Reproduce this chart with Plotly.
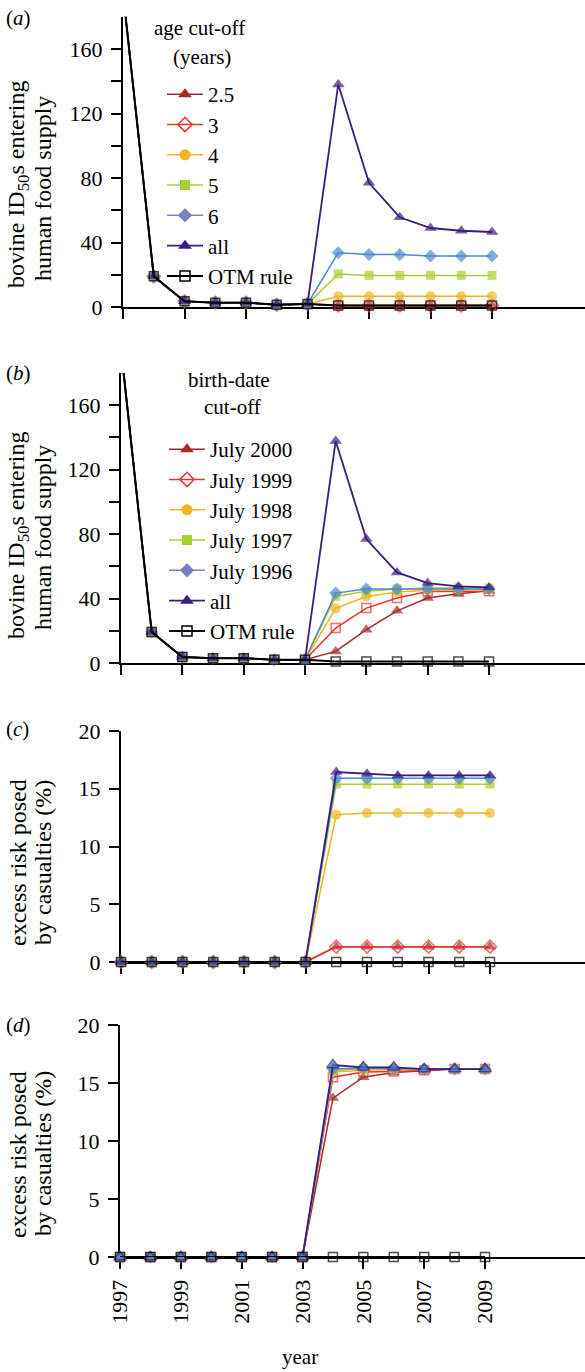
import plotly.graph_objects as go

# ---------------- data ----------------
years = [1997, 1998, 1999, 2000, 2001, 2002, 2003, 2004, 2005, 2006, 2007, 2008, 2009]
x_tick_vals = [1997, 1999, 2001, 2003, 2005, 2007, 2009]
x_tick_text = ["1997", "1999", "2001", "2003", "2005", "2007", "2009"]
y_tick_vals_ab = [0, 20, 40, 60, 80, 100, 120, 140, 160]
y_tick_text_ab = ["0", "", "40", "", "80", "", "120", "", "160"]
y_tick_vals_cd = [0, 5, 10, 15, 20]
y_tick_text_cd = ["0", "5", "10", "15", "20"]

age_labels = ["2.5", "3", "4", "5", "6", "all", "OTM rule"]
birth_labels = ["July 2000", "July 1999", "July 1998", "July 1997", "July 1996", "all", "OTM rule"]

# (a) bovine ID50s entering human food supply, age cut-off
a_25 = [195, 19, 3.5, 2.7, 2.7, 1.4, 1.9, 1, 1, 1, 1, 1, 1]
a_3 = [195, 19, 3.5, 2.7, 2.7, 1.4, 1.9, 1, 1, 1, 1, 1, 1]
a_4 = [195, 19, 3.5, 2.7, 2.7, 1.4, 1.9, 6.6, 6.6, 6.6, 6.6, 6.6, 6.6]
a_5 = [195, 19, 3.5, 2.7, 2.7, 1.4, 1.9, 20.5, 19.6, 19.6, 19.6, 19.6, 19.6]
a_6 = [195, 19, 3.5, 2.7, 2.7, 1.4, 1.9, 33.7, 32.5, 32.5, 31.6, 31.6, 31.6]
a_all = [195, 19, 3.5, 2.7, 2.7, 1.4, 1.9, 138, 77, 55.6, 49, 47.3, 46.5]
a_otm = [195, 19, 3.5, 2.7, 2.7, 1.4, 1.9, 1, 1, 1, 1, 1, 1]

# (b) bovine ID50s entering human food supply, birth-date cut-off
b_2000 = [195, 19.2, 3.7, 3, 3, 2, 2, 7.2, 20.7, 32.4, 40.3, 43, 44.8]
b_1999 = [195, 19.2, 3.7, 3, 3, 2, 2, 21.7, 34.1, 40.3, 44.4, 44.6, 44.6]
b_1998 = [195, 19.2, 3.7, 3, 3, 2, 2, 33.9, 41.3, 44, 45.2, 45.5, 45.5]
b_1997 = [195, 19.2, 3.7, 3, 3, 2, 2, 41.3, 44.6, 46, 46.5, 46.5, 46.5]
b_1996 = [195, 19.2, 3.7, 3, 3, 2, 2, 43.4, 46, 46, 46, 46, 46]
b_all = [195, 19.2, 3.7, 3, 3, 2, 2, 137.8, 76.9, 56.2, 49.6, 47.5, 46.9]
b_otm = [195, 19.2, 3.7, 3, 3, 2, 2, 1, 1, 1, 1, 1, 1]

# (c) excess risk posed by casualties (%), age cut-off
c_25 = [0, 0, 0, 0, 0, 0, 0, 1.33, 1.33, 1.33, 1.33, 1.33, 1.33]
c_3 = [0, 0, 0, 0, 0, 0, 0, 1.33, 1.33, 1.33, 1.33, 1.33, 1.33]
c_4 = [0, 0, 0, 0, 0, 0, 0, 12.75, 12.9, 12.9, 12.9, 12.9, 12.9]
c_5 = [0, 0, 0, 0, 0, 0, 0, 15.4, 15.4, 15.4, 15.4, 15.4, 15.4]
c_6 = [0, 0, 0, 0, 0, 0, 0, 15.9, 15.9, 15.9, 15.9, 15.9, 15.9]
c_all = [0, 0, 0, 0, 0, 0, 0, 16.45, 16.3, 16.15, 16.15, 16.15, 16.15]
c_otm = [0, 0, 0, 0, 0, 0, 0, 0, 0, 0, 0, 0, 0]

# (d) excess risk posed by casualties (%), birth-date cut-off
d_2000 = [0, 0, 0, 0, 0, 0, 0, 13.7, 15.5, 15.9, 16.05, 16.2, 16.2]
d_1999 = [0, 0, 0, 0, 0, 0, 0, 15.5, 15.95, 16.0, 16.1, 16.2, 16.2]
d_1998 = [0, 0, 0, 0, 0, 0, 0, 15.95, 16.1, 16.15, 16.2, 16.2, 16.2]
d_1997 = [0, 0, 0, 0, 0, 0, 0, 16.05, 16.25, 16.2, 16.2, 16.2, 16.2]
d_1996 = [0, 0, 0, 0, 0, 0, 0, 16.2, 16.3, 16.25, 16.2, 16.2, 16.2]
d_all = [0, 0, 0, 0, 0, 0, 0, 16.55, 16.35, 16.35, 16.2, 16.2, 16.2]
d_otm = [0, 0, 0, 0, 0, 0, 0, 0, 0, 0, 0, 0, 0]

# ---------------- styling ----------------
W, H = 585, 1372
FONT = "Liberation Serif"
FS = 21
FS_TICK = 22
FS_YT = 24

C25 = "#A3292B"
C3 = "#E8322F"
C4 = "#F2B423"
C5 = "#A8CF2F"
C6 = "#4E89CE"
C6_LEG = "#7D7FC3"
CALL = "#3A1B82"
COTM = "#000000"


def fx(px):
    return px / W


def fy(py):
    return 1 - py / H


age_styles = [
    dict(color=C25, symbol="triangle-up", size=11, mlc=C25, mlw=0, lw=1.5),
    dict(color=C3, symbol="diamond-open", size=10, mlc=C3, mlw=1.5, lw=1.5),
    dict(color=C4, symbol="circle", size=10, mlc=C4, mlw=0, lw=1.5),
    dict(color=C5, symbol="square", size=9, mlc=C5, mlw=0, lw=1.5),
    dict(color=C6, symbol="diamond", size=10, mlc=C6, mlw=0, lw=1.5, leg=C6_LEG),
    dict(color=CALL, symbol="triangle-up", size=11, mlc=CALL, mlw=0, lw=1.8),
    dict(color=COTM, symbol="square-open", size=9, mlc=COTM, mlw=1.5, lw=2),
]
birth_styles = [
    dict(color=C25, symbol="triangle-up", size=11, mlc=C25, mlw=0, lw=1.5),
    dict(color=C3, symbol="square-open", size=9, mlc=C3, mlw=1.5, lw=1.5, legsym="diamond-open", legsize=10),
    dict(color=C4, symbol="circle", size=10, mlc=C4, mlw=0, lw=1.5),
    dict(color=C5, symbol="square", size=9, mlc=C5, mlw=0, lw=1.5),
    dict(color=C6, symbol="diamond", size=10, mlc=C6, mlw=0, lw=1.5, leg=C6_LEG),
    dict(color=CALL, symbol="triangle-up", size=11, mlc=CALL, mlw=0, lw=1.8),
    dict(color=COTM, symbol="square-open", size=9, mlc=COTM, mlw=1.5, lw=2),
]

fig = go.Figure()


def add_panel(series, labels, styles, xa, ya, legend=None, hide_first=False, d_panel=False):
    for i, (vals, lab, st) in enumerate(zip(series, labels, styles)):
        sizes = [st["size"]] * len(years)
        if hide_first:
            sizes[0] = 0
        mcolor = st["color"]
        mlc = st["mlc"]
        mlw = st["mlw"]
        if d_panel and lab == "all":
            mcolor = "#4F7FC4"
            mlc = CALL
            mlw = 1.5
        fig.add_trace(go.Scatter(
            x=years, y=vals, mode="lines+markers", xaxis=xa, yaxis=ya,
            line=dict(color=st["color"], width=st["lw"]),
            marker=dict(color=mcolor, symbol=st["symbol"], size=sizes,
                        line=dict(color=mlc, width=mlw)),
            cliponaxis=False, showlegend=False, name=lab,
        ))
        if legend:
            legc = st.get("leg", st["color"])
            fig.add_trace(go.Scatter(
                x=[None], y=[None], mode="lines+markers", xaxis=xa, yaxis=ya,
                line=dict(color=legc, width=st["lw"]),
                marker=dict(color=legc, symbol=st.get("legsym", st["symbol"]),
                            size=st.get("legsize", st["size"]) + 1,
                            line=dict(color=legc, width=st["mlw"])),
                name=lab, legend=legend, showlegend=True,
            ))


add_panel([a_25, a_3, a_4, a_5, a_6, a_all, a_otm], age_labels, age_styles, "x", "y",
          legend="legend", hide_first=True)
add_panel([b_2000, b_1999, b_1998, b_1997, b_1996, b_all, b_otm], birth_labels, birth_styles, "x2", "y2",
          legend="legend2", hide_first=True)
add_panel([c_25, c_3, c_4, c_5, c_6, c_all, c_otm], age_labels, age_styles, "x3", "y3")
add_panel([d_2000, d_1999, d_1998, d_1997, d_1996, d_all, d_otm], birth_labels, birth_styles, "x4", "y4",
          d_panel=True)

# panel geometry in pixels: (x of 1997, px per year, y of zero, y of top, y-range top)
geo = {
    1: (123, 30.75, 307, 16.75, 180),
    2: (121, 30.67, 663, 373, 180),
    3: (121, 30.75, 962, 731, 20),
    4: (120, 30.42, 1257, 1025, 20),
}

axis_common = dict(showline=True, linewidth=2, linecolor="black", ticks="outside",
                   ticklen=10, tickwidth=2, tickcolor="black", showgrid=False, zeroline=False,
                   tickfont=dict(family=FONT, size=FS_TICK, color="black"), layer="below traces",
                   automargin=False)
layout_axes = {}
for k, (x0, ppy, y0, ytop, ymax) in geo.items():
    sx = "" if k == 1 else str(k)
    xa = dict(axis_common, domain=[fx(x0), 1], range=[1997, 1997 + (W - x0) / ppy],
              tickvals=x_tick_vals, anchor="y" + sx)
    if k == 4:
        xa.update(ticktext=x_tick_text, tickangle=-90, ticklabelstandoff=2)
    else:
        xa.update(ticktext=[""] * len(x_tick_vals))
    ya = dict(axis_common, domain=[fy(y0), fy(ytop)], range=[0, ymax], anchor="x" + sx,
              ticklabelstandoff=4)
    if ymax == 180:
        ya.update(tickvals=y_tick_vals_ab, ticktext=y_tick_text_ab)
    else:
        ya.update(tickvals=y_tick_vals_cd, ticktext=y_tick_text_cd)
    layout_axes["xaxis" + sx] = xa
    layout_axes["yaxis" + sx] = ya

fig.update_layout(**layout_axes)

legend_common = dict(font=dict(family=FONT, size=FS, color="black"), bgcolor="rgba(0,0,0,0)",
                     xanchor="left", yanchor="top", itemwidth=36, traceorder="normal")
fig.update_layout(
    width=W, height=H, margin=dict(l=0, r=0, t=0, b=0, autoexpand=False),
    paper_bgcolor="white", plot_bgcolor="white",
    font=dict(family=FONT, size=FS, color="black"),
    legend=dict(legend_common, x=fx(162), y=fy(74)),
    legend2=dict(legend_common, x=fx(164), y=fy(429)),
)


def ann(text, px, py, angle=0, xanchor="center", yanchor="middle", size=FS):
    fig.add_annotation(text=text, x=fx(px), y=fy(py), xref="paper", yref="paper",
                       showarrow=False, textangle=angle, xanchor=xanchor, yanchor=yanchor,
                       font=dict(family=FONT, size=size, color="black"))


ann("(<i>a</i>)", 4, 18, xanchor="left")
ann("(<i>b</i>)", 4, 373, xanchor="left")
ann("(<i>c</i>)", 4, 729, xanchor="left")
ann("(<i>d</i>)", 4, 1025, xanchor="left")

ann("bovine ID<sub>50</sub>s entering", 18, 185, angle=-90, size=FS_YT)
ann("human food supply", 43, 189, angle=-90, size=FS_YT)
ann("bovine ID<sub>50</sub>s entering", 18, 536, angle=-90, size=FS_YT)
ann("human food supply", 43, 538, angle=-90, size=FS_YT)
ann("excess risk posed", 18, 863, angle=-90, size=FS_YT)
ann("by casualties (%)", 43, 863, angle=-90, size=FS_YT)
ann("excess risk posed", 18, 1155, angle=-90, size=FS_YT)
ann("by casualties (%)", 43, 1154, angle=-90, size=FS_YT)

ann("age cut-off", 199, 28)
ann("(years)", 202, 57)
ann("birth-date", 229, 380)
ann("cut-off", 232, 407)
ann("year", 300, 1357)

fig.write_html("out.html", config={"displayModeBar": False},
               post_script="document.body.style.margin='0px';document.body.style.padding='0px';"
                           "document.body.style.overflow='hidden';")
